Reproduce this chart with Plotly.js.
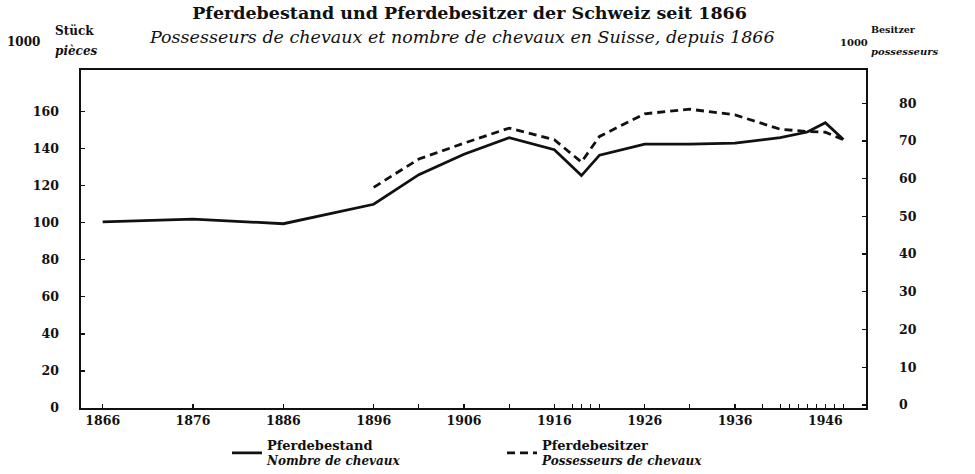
<!DOCTYPE html>
<html>
<head>
<meta charset="utf-8">
<script src="https://cdn.plot.ly/plotly-3.0.1.min.js"></script>
<style>html,body{margin:0;padding:0;background:#fff;}#chart{width:975px;height:474px;}</style>
</head>
<body>
<div id="chart"></div>
<script>
// Pferdebestand (1000 Stück) - left axis
const yearsHorses = [1866,1876,1886,1896,1901,1906,1911,1916,1919,1921,1926,1931,1936,1941,1944,1946,1948];
const horses      = [100.5,102,99.5,110,126,137,146,139.5,125.5,136.5,142.5,142.5,143,146,149,154,145];
// Pferdebesitzer (1000 Besitzer) - right axis
const yearsOwners = [1896,1901,1906,1911,1916,1919,1921,1926,1931,1936,1941,1944,1946,1948];
const owners      = [57.7,65.2,69.4,73.4,70.3,64.4,71.2,77.2,78.4,76.9,73.1,72.5,72.3,70.3];

const xTickVals = [1866,1876,1886,1896,1901,1906,1911,1916,1918,1919,1920,1921,1926,1931,1936,1939,1941,1942,1943,1944,1945,1946,1947,1948];
const xLabelled = [1866,1876,1886,1896,1906,1916,1926,1936,1946];
const xTickText = xTickVals.map(v => xLabelled.includes(v) ? String(v) : '');
const leftTicks = [0,20,40,60,80,100,120,140,160];
const rightTicks = [0,10,20,30,40,50,60,70,80];

const serif = 'DejaVu Serif, Liberation Serif, serif';
const tickFont = {family: serif, size: 12.5, color: '#111', weight: 'bold'};

const traces = [
  {x: yearsHorses, y: horses, type: 'scatter', mode: 'lines', yaxis: 'y',
   name: '<span style="font-size:13px"><b>Pferdebestand</b></span><br><b><i>Nombre de chevaux</i></b>',
   line: {color: '#111', width: 2.8}},
  {x: yearsOwners, y: owners, type: 'scatter', mode: 'lines', yaxis: 'y2',
   name: '<span style="font-size:13px"><b>Pferdebesitzer</b></span><br><b><i>Possesseurs de chevaux</i></b>',
   line: {color: '#111', width: 2.8, dash: '8px,5px'}}
];

const layout = {
  width: 975, height: 474,
  margin: {l: 81, r: 109, t: 70, b: 66, autoexpand: false},
  paper_bgcolor: '#fff', plot_bgcolor: '#fff',
  font: {family: serif, color: '#111'},
  showlegend: true,
  title: {text: '<b>Pferdebestand und Pferdebesitzer der Schweiz seit 1866</b>',
          font: {family: serif, size: 17.5, color: '#111'},
          xref: 'paper', x: 0.495, xanchor: 'center', yref: 'container', y: 0.972, yanchor: 'middle'},
  xaxis: {range: [1863.6, 1950.5], tickmode: 'array', tickvals: xTickVals, ticktext: xTickText,
          ticks: 'inside', ticklen: 4, tickwidth: 1.2, tickcolor: '#111',
          showline: true, linecolor: '#111', linewidth: 1.6, mirror: true,
          showgrid: false, zeroline: false, tickfont: tickFont, ticklabelstandoff: 0, automargin: false},
  yaxis: {range: [0, 182.5], tickmode: 'array', tickvals: leftTicks,
          ticks: 'inside', ticklen: 4, tickwidth: 1.2, tickcolor: '#111',
          showline: true, linecolor: '#111', linewidth: 1.6,
          showgrid: false, zeroline: false, tickfont: tickFont, ticklabelstandoff: 18, automargin: false},
  yaxis2: {range: [-0.8, 88.8], tickmode: 'array', tickvals: rightTicks, overlaying: 'y', side: 'right',
           ticks: 'inside', ticklen: 4, tickwidth: 1.2, tickcolor: '#111',
           showline: true, linecolor: '#111', linewidth: 1.6,
           showgrid: false, zeroline: false, tickfont: tickFont, ticklabelstandoff: 29, automargin: false},
  legend: {orientation: 'h', xref: 'container', yref: 'container', x: 0.2328, xanchor: 'left', y: 0.091, yanchor: 'top',
           valign: 'middle', entrywidth: 230, entrywidthmode: 'pixels',
           font: {family: serif, size: 12, color: '#111'}, bgcolor: 'rgba(0,0,0,0)'},
  annotations: [
    {text: '<i>Possesseurs de chevaux et nombre de chevaux en Suisse, depuis 1866</i>',
     xref: 'paper', yref: 'paper', x: 0.5, xshift: -12, y: 1.0, yshift: 33, xanchor: 'center', yanchor: 'middle',
     showarrow: false, font: {family: serif, size: 17.5, color: '#111'}},
    {text: '<b>1000</b>', xref: 'paper', yref: 'paper', x: 0, xshift: -39, y: 1, yshift: 28,
     xanchor: 'right', yanchor: 'middle', showarrow: false, font: {family: serif, size: 12, color: '#111'}},
    {text: '<b>Stück</b>', xref: 'paper', yref: 'paper', x: 0, xshift: -28, y: 1, yshift: 39,
     xanchor: 'left', yanchor: 'middle', showarrow: false, font: {family: serif, size: 12, color: '#111'}},
    {text: '<b><i>pièces</i></b>', xref: 'paper', yref: 'paper', x: 0, xshift: -28, y: 1, yshift: 19,
     xanchor: 'left', yanchor: 'middle', showarrow: false, font: {family: serif, size: 12, color: '#111'}},
    {text: '<b>1000</b>', xref: 'paper', yref: 'paper', x: 1, xshift: 4, y: 1, yshift: 28,
     xanchor: 'right', yanchor: 'middle', showarrow: false, font: {family: serif, size: 10, color: '#111'}},
    {text: '<b>Besitzer</b>', xref: 'paper', yref: 'paper', x: 1, xshift: 3, y: 1, yshift: 41,
     xanchor: 'left', yanchor: 'middle', showarrow: false, font: {family: serif, size: 9.5, color: '#111'}},
    {text: '<b><i>possesseurs</i></b>', xref: 'paper', yref: 'paper', x: 1, xshift: 3, y: 1, yshift: 19,
     xanchor: 'left', yanchor: 'middle', showarrow: false, font: {family: serif, size: 10, color: '#111'}}
  ]
};

Plotly.newPlot('chart', traces, layout, {displayModeBar: false, staticPlot: true});
</script>
</body>
</html>
